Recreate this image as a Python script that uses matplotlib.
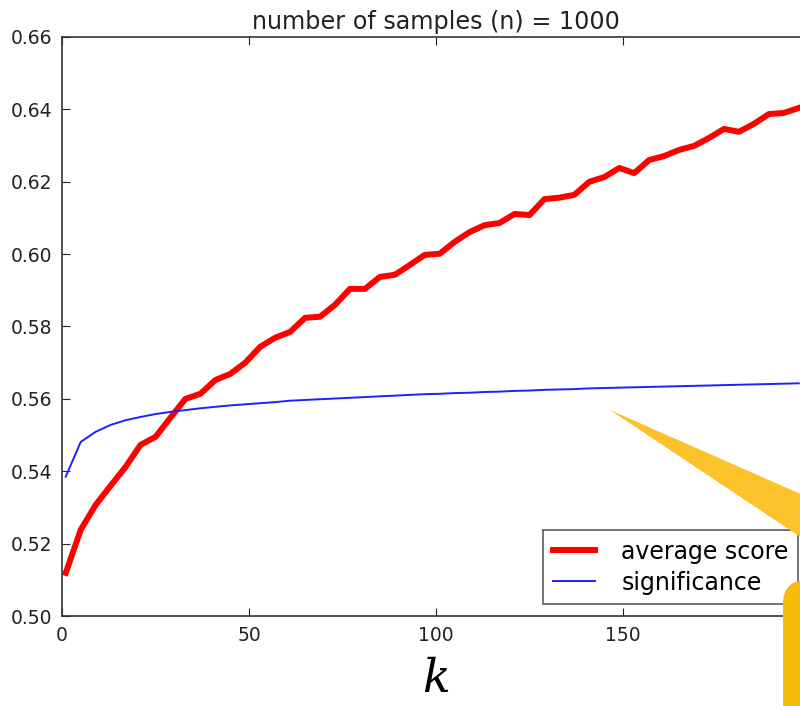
import numpy as np
import matplotlib
matplotlib.use("Agg")
import matplotlib.pyplot as plt
from matplotlib.patches import Polygon, FancyBboxPatch

# k values (every 4th sample)
k = list(range(1, 198, 4))

avg_score = [0.5119, 0.5238, 0.5307, 0.5360, 0.5412, 0.5473, 0.5495, 0.5548,
             0.5600, 0.5614, 0.5652, 0.5669, 0.5700, 0.5744, 0.5769, 0.5785,
             0.5824, 0.5827, 0.5860, 0.5904, 0.5904, 0.5937, 0.5943, 0.5970,
             0.5998, 0.6001, 0.6034, 0.6061, 0.6080, 0.6086, 0.6111, 0.6108,
             0.6152, 0.6156, 0.6164, 0.6200, 0.6213, 0.6238, 0.6224, 0.6260,
             0.6271, 0.6288, 0.6299, 0.6321, 0.6346, 0.6338, 0.6360, 0.6387,
             0.6390, 0.6404]

significance = [0.5385, 0.5481, 0.5509, 0.5528, 0.5541, 0.5550, 0.5558, 0.5564,
                0.5569, 0.5574, 0.5578, 0.5582, 0.5585, 0.5588, 0.5591, 0.5595,
                0.5597, 0.5599, 0.5601, 0.5603, 0.5605, 0.5607, 0.5609, 0.5611,
                0.5613, 0.5614, 0.5616, 0.5617, 0.5619, 0.5620, 0.5622, 0.5623,
                0.5625, 0.5626, 0.5627, 0.5629, 0.5630, 0.5631, 0.5632, 0.5633,
                0.5634, 0.5635, 0.5636, 0.5637, 0.5638, 0.5639, 0.5640, 0.5641,
                0.5642, 0.5643]

W, H = 800, 706
fig = plt.figure(figsize=(W / 100, H / 100), dpi=100)
fig.patch.set_facecolor('white')

# axes run past the right edge of the picture (cropped slide)
ax = fig.add_axes([62 / W, 90 / H, 748 / W, 579 / H])
ax.plot(k, avg_score, color='red', lw=4.3, label='average score')
ax.plot(k, significance, color='#2020ff', lw=1.4, label='significance')

ax.set_xlim(0, 200)
ax.set_ylim(0.50, 0.66)
ax.set_xticks([0, 50, 100, 150])
ax.set_yticks(np.arange(0.50, 0.661, 0.02))
ax.set_yticklabels(['%.2f' % v for v in np.arange(0.50, 0.661, 0.02)])
ax.tick_params(direction='in', top=True, right=True, length=6, width=0.8,
               labelsize=13.5, colors='#222222', pad=7)
for s in ax.spines.values():
    s.set_color('#333333')
    s.set_linewidth(1.2)

ax.set_title('number of samples (n) = 1000', fontsize=17.2, color='#222222', pad=6)
ax.set_xlabel('k', fontsize=33, style='italic', family='DejaVu Serif', labelpad=9)

leg = ax.legend(loc='lower right', fontsize=17, fancybox=False, handlelength=1.8,
                handletextpad=1.1, borderpad=0.4, labelspacing=0.3,
                borderaxespad=0.5)
leg.get_frame().set_edgecolor('#333333')
leg.get_frame().set_linewidth(1.2)

# yellow callout overlay (figure pixel coords -> fraction)
def fp(x, y):
    return (x / W, 1 - y / H)

tri = Polygon([fp(610, 410), fp(805, 496), fp(805, 540)], closed=True,
              transform=fig.transFigure, facecolor='#FCC22C', edgecolor='none',
              zorder=10)
fig.patches.append(tri)
box = FancyBboxPatch(fp(783, 740), 120 / W, 160 / H,
                     boxstyle='round,pad=0,rounding_size=0.03',
                     transform=fig.transFigure, facecolor='#F5BC08',
                     edgecolor='none', zorder=11, mutation_aspect=W / H)
fig.patches.append(box)

fig.savefig('out.png', dpi=100)
